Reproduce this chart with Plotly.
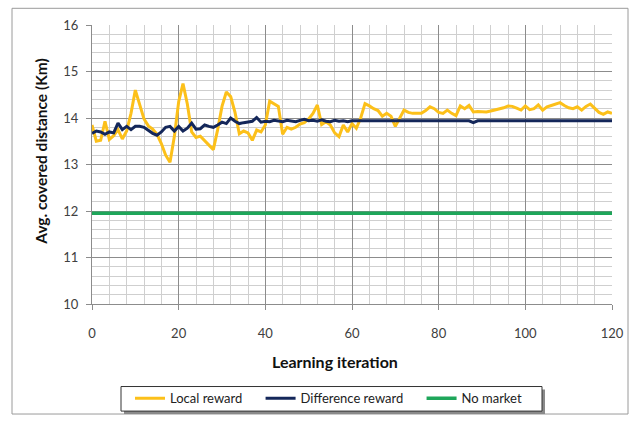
import plotly.graph_objects as go

iterations = list(range(0, 121))

local_reward = [
    13.85, 13.50, 13.52, 13.93, 13.54, 13.62, 13.75, 13.55, 13.72, 14.10,
    14.60, 14.30, 13.98, 13.83, 13.76, 13.65, 13.45, 13.20, 13.05, 13.60,
    14.35, 14.74, 14.30, 13.70, 13.58, 13.61, 13.52, 13.42, 13.32, 13.75,
    14.25, 14.56, 14.46, 14.12, 13.66, 13.72, 13.68, 13.52, 13.74, 13.70,
    13.85, 14.36, 14.30, 14.25, 13.65, 13.80, 13.76, 13.80, 13.87, 13.90,
    13.98, 14.10, 14.28, 13.86, 13.92, 13.85, 13.68, 13.60, 13.85, 13.70,
    13.88, 13.78, 14.00, 14.31, 14.26, 14.20, 14.16, 14.04, 14.10, 14.04,
    13.82, 14.00, 14.17, 14.12, 14.10, 14.10, 14.10, 14.16, 14.24, 14.20,
    14.12, 14.10, 14.17, 14.10, 14.05, 14.26, 14.20, 14.27, 14.13, 14.14,
    14.14, 14.13, 14.15, 14.17, 14.20, 14.22, 14.26, 14.25, 14.21, 14.17,
    14.26, 14.18, 14.20, 14.28, 14.17, 14.24, 14.27, 14.30, 14.33, 14.27,
    14.22, 14.20, 14.24, 14.17, 14.25, 14.30, 14.20, 14.12, 14.08, 14.13,
    14.10,
]

difference_reward = [
    13.67, 13.72, 13.70, 13.65, 13.70, 13.68, 13.89, 13.75, 13.82, 13.75,
    13.82, 13.82, 13.80, 13.74, 13.67, 13.63, 13.70, 13.80, 13.82, 13.72,
    13.82, 13.72, 13.78, 13.89, 13.76, 13.77, 13.85, 13.82, 13.80, 13.85,
    13.91, 13.88, 14.00, 13.93, 13.88, 13.90, 13.91, 13.93, 14.01, 13.91,
    13.93, 13.92, 13.95, 13.93, 13.92, 13.95, 13.94, 13.92, 13.95, 13.97,
    13.94, 13.95, 13.93, 13.96, 13.93, 13.92, 13.95, 13.93, 13.94, 13.92,
    13.94, 13.94, 13.94, 13.94, 13.94, 13.94, 13.94, 13.94, 13.94, 13.94,
    13.94, 13.94, 13.94, 13.94, 13.94, 13.94, 13.94, 13.94, 13.94, 13.94,
    13.94, 13.94, 13.94, 13.94, 13.94, 13.94, 13.94, 13.94, 13.90, 13.94,
    13.94, 13.94, 13.94, 13.94, 13.94, 13.94, 13.94, 13.94, 13.94, 13.94,
    13.94, 13.94, 13.94, 13.94, 13.94, 13.94, 13.94, 13.94, 13.94, 13.94,
    13.94, 13.94, 13.94, 13.94, 13.94, 13.94, 13.94, 13.94, 13.94, 13.94,
    13.94,
]

no_market = [11.95] * 121

series_names = ["Local reward", "Difference reward", "No market"]

x_ticks = [0, 20, 40, 60, 80, 100, 120]
y_ticks = [10, 11, 12, 13, 14, 15, 16]

FONT = "Lato"
W, H = 641, 425
L, R, T, B = 92, 612, 25, 309
pw, ph = R - L, B - T


def px(x):
    return (x - L) / pw


def py(y):
    return (B - y) / ph


PAD = "\u00a0" * 4

fig = go.Figure()
fig.add_trace(go.Scatter(x=iterations, y=local_reward, mode="lines",
                         name=series_names[0] + PAD,
                         line=dict(color="#FCC01A", width=3)))
fig.add_trace(go.Scatter(x=iterations, y=difference_reward, mode="lines",
                         name=series_names[1] + PAD,
                         line=dict(color="#14275A", width=3)))
fig.add_trace(go.Scatter(x=iterations, y=no_market, mode="lines",
                         name=series_names[2],
                         line=dict(color="#1EA65A", width=3.5)))

fig.update_layout(
    width=W, height=H, autosize=False,
    margin=dict(l=L, r=W - R, t=T, b=H - B, pad=0),
    paper_bgcolor="white", plot_bgcolor="white",
    font=dict(family=FONT, size=13, color="#404040"),
    showlegend=True,
    legend=dict(orientation="h", x=px(130), y=py(405), xanchor="left", yanchor="middle",
                bgcolor="rgba(0,0,0,0)", borderwidth=0,
                font=dict(family=FONT, size=13, color="#222222"),
                itemwidth=30, tracegroupgap=0),
    xaxis=dict(range=[0, 120], tickvals=x_ticks, ticktext=[str(v) for v in x_ticks],
               showgrid=True, gridcolor="#8C8C8C", gridwidth=1,
               minor=dict(dtick=4, showgrid=True, gridcolor="#CFCFCF", gridwidth=1),
               showline=True, linecolor="#8C8C8C", linewidth=1,
               ticks="outside", ticklen=5, tickcolor="#8C8C8C",
               ticklabelstandoff=12, zeroline=False,
               tickfont=dict(family=FONT, size=13, color="#404040")),
    yaxis=dict(range=[10, 16], tickvals=y_ticks, ticktext=[str(v) for v in y_ticks],
               showgrid=True, gridcolor="#8C8C8C", gridwidth=1,
               minor=dict(dtick=0.2, showgrid=True, gridcolor="#CFCFCF", gridwidth=1),
               showline=True, linecolor="#8C8C8C", linewidth=1,
               ticks="outside", ticklen=5, tickcolor="#8C8C8C",
               ticklabelstandoff=5, zeroline=False,
               tickfont=dict(family=FONT, size=13, color="#404040")),
    annotations=[
        dict(text="<b>Avg. covered distance (Km)</b>", xref="paper", yref="paper",
             x=px(41), y=py(154), textangle=-90, showarrow=False,
             xanchor="center", yanchor="middle",
             font=dict(family=FONT, size=15.5, color="#111111")),
        dict(text="<b>Learning iteration</b>", xref="paper", yref="paper",
             x=px(335), y=py(368), showarrow=False,
             xanchor="center", yanchor="middle",
             font=dict(family=FONT, size=16, color="#111111")),
    ],
    shapes=[
        dict(type="rect", xref="paper", yref="paper",
             x0=px(12), x1=px(628), y0=py(421), y1=py(8),
             line=dict(color="#9A9A9A", width=1), fillcolor="rgba(0,0,0,0)",
             layer="below"),
        dict(type="rect", xref="paper", yref="paper",
             x0=px(124), x1=px(545), y0=py(421), y1=py(396),
             line=dict(width=0), fillcolor="#8A8A8A", layer="above"),
        dict(type="rect", xref="paper", yref="paper",
             x0=px(121), x1=px(542), y0=py(418), y1=py(393),
             line=dict(color="#333333", width=1), fillcolor="white", layer="above"),
    ],
)

fig.write_html("out.html", config={"displayModeBar": False},
               post_script="document.body.style.margin='0';")
